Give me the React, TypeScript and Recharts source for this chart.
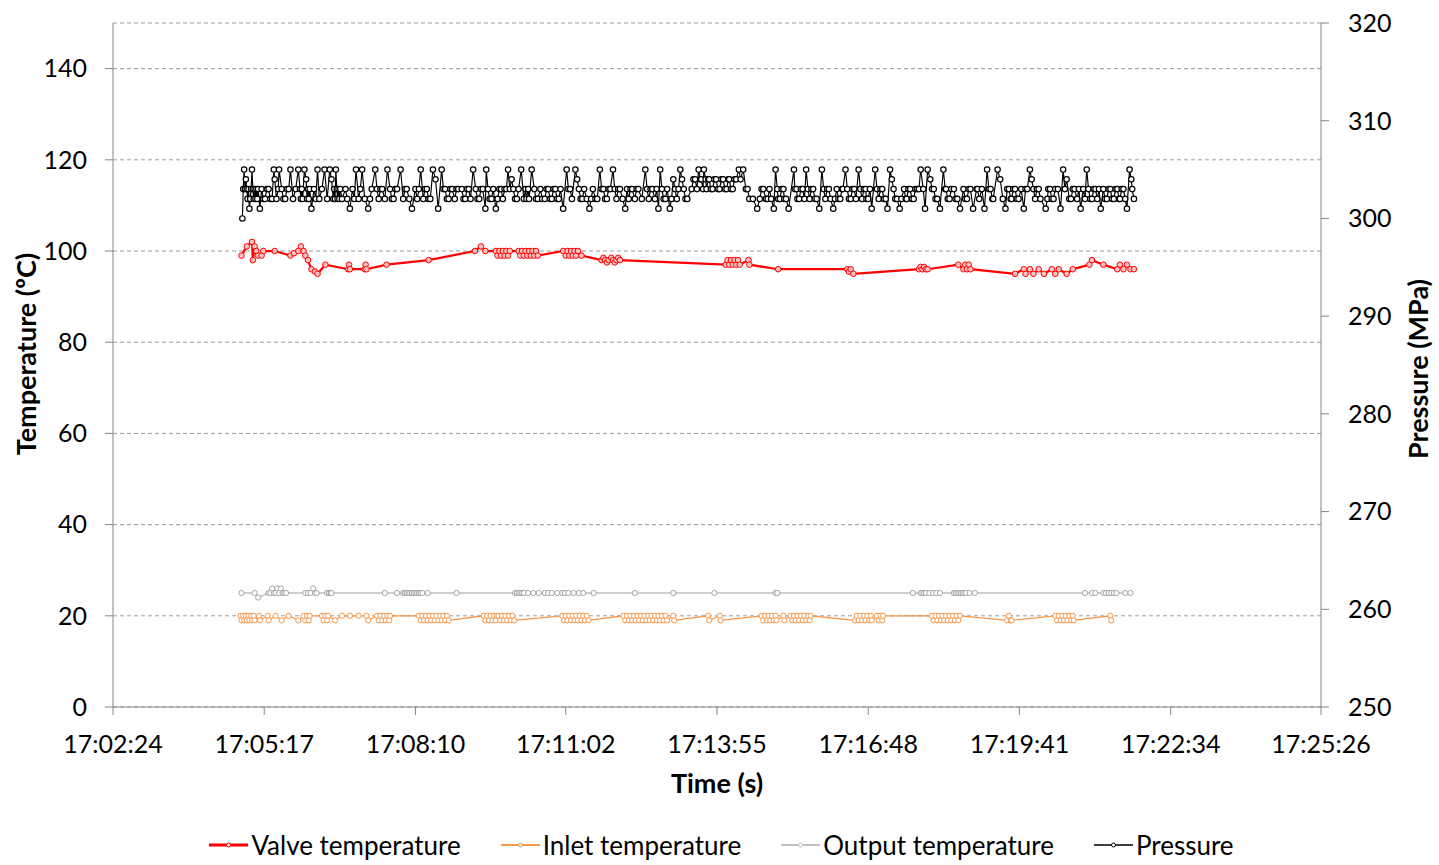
import React from 'react';
import { LineChart, Line, XAxis, YAxis, CartesianGrid, Legend, Label } from 'recharts';

// Time tick labels of the horizontal axis (clock time)
const timeTickLabels = ['17:02:24', '17:05:17', '17:08:10', '17:11:02', '17:13:55', '17:16:48', '17:19:41', '17:22:34', '17:25:26'];
const temperatureTicks = [0, 20, 40, 60, 80, 100, 120, 140];
const pressureTicks = [250, 260, 270, 280, 290, 300, 310, 320];

// All sample times are seconds after 17:00:00
const valveTime = [
  291, 297, 303, 304, 306, 308, 310, 314, 316, 329, 347, 351, 356, 359, 362, 364, 367, 371, 375, 378, 387,
  413, 414, 415, 432, 433, 434, 457, 505, 558, 565, 570,
  582, 584, 586, 588, 590, 592, 594, 596, 598,
  608, 610, 612, 614, 616, 618, 620, 622, 624, 626, 628, 630,
  659, 662, 664, 666, 668, 670, 672, 674, 676, 680,
  703, 705, 707, 709, 711, 714, 716, 718, 720, 722, 724,
  845, 847, 849, 851, 853, 855, 857, 859, 861, 871, 872, 905,
  984, 986, 988, 991, 1066, 1068, 1070, 1072, 1074, 1076,
  1111, 1117, 1119, 1121, 1123, 1125, 1176, 1186, 1188, 1193, 1197, 1203, 1209, 1218, 1222, 1226, 1235, 1242,
  1261, 1264, 1277, 1293, 1296, 1300, 1304, 1308, 1312,
];
const valveTemp = [
  99, 101, 102, 98, 101, 100, 99, 99, 100, 100, 99, 99.5, 100, 101, 100, 99, 98, 96, 95.5, 95, 97,
  96, 97, 96, 96, 97, 96, 97, 98, 100, 101, 100,
  100, 99, 100, 99, 100, 99, 100, 99, 100,
  100, 99, 100, 99, 100, 99, 100, 99, 100, 99, 100, 99,
  100, 99, 100, 99, 100, 99, 100, 99, 100, 99,
  98, 98.5, 98, 97.5, 98, 98.5, 98, 97.5, 98, 98.5, 98,
  97, 98, 97, 98, 97, 98, 97, 98, 97, 98, 97, 96,
  96, 95.5, 96, 95, 96, 96.5, 96, 96.5, 96, 96,
  97, 96, 97, 96, 97, 96, 95, 96, 95, 96, 95, 96, 95, 96, 95, 96, 95, 96,
  97, 98, 97, 96, 97, 96, 97, 96, 96,
];

const inletTime = [
  290, 291, 293, 294, 296, 297, 299, 300, 302, 303, 305, 306,
  311, 312, 321, 322, 330, 337, 345, 356,
  362, 364, 366, 368, 369,
  383, 385, 387, 389, 390,
  398, 406, 415, 425, 434, 436,
  446, 448, 450, 452, 454, 456, 458, 460, 461,
  494, 496, 498, 500, 502, 504, 506, 508, 510, 512, 514, 516, 518, 520, 522, 524, 526, 528,
  568, 570, 572, 574, 576, 578, 580, 582, 583,
  585, 587, 589, 591, 593, 595, 597, 599, 601, 603,
  658, 660, 662, 664, 666, 668, 670, 672, 674, 676, 678, 680, 682, 684, 686, 688,
  728, 730, 732, 734, 736, 738, 740, 742, 744, 746, 748, 750, 752, 754, 756, 758, 760, 762, 764, 766, 768, 770, 772, 774, 776, 778,
  785, 786, 825, 826, 838, 839,
  886, 888, 890, 892, 894, 896, 898, 900, 902, 903,
  911, 912,
  919, 921, 923, 925, 927, 929, 931, 933, 935, 937, 939, 941, 942,
  993, 995, 997, 999, 1001, 1003, 1005, 1007, 1009, 1011, 1012,
  1018, 1020, 1022, 1024, 1025,
  1081, 1083, 1085, 1087, 1089, 1091, 1093, 1095, 1097, 1099, 1101, 1103, 1105, 1107, 1109, 1111, 1113,
  1167, 1169, 1171, 1172,
  1222, 1224, 1226, 1228, 1230, 1232, 1234, 1236, 1238, 1240, 1242, 1243,
  1285, 1286,
];
const inletTemp = [
  20, 19, 20, 19, 20, 19, 20, 19, 20, 19, 20, 19,
  20, 19, 20, 19, 20, 19, 20, 19,
  20, 19, 20, 19, 20,
  20, 19, 20, 19, 20,
  19, 20, 20, 20, 20, 19,
  20, 19, 20, 19, 20, 19, 20, 19, 20,
  20, 19, 20, 19, 20, 19, 20, 19, 20, 19, 20, 19, 20, 19, 20, 19, 20, 19,
  20, 19, 20, 19, 20, 19, 20, 19, 20,
  20, 19, 20, 19, 20, 19, 20, 19, 20, 19,
  20, 19, 20, 19, 20, 19, 20, 19, 20, 19, 20, 19, 20, 19, 20, 19,
  20, 19, 20, 19, 20, 19, 20, 19, 20, 19, 20, 19, 20, 19, 20, 19, 20, 19, 20, 19, 20, 19, 20, 19, 20, 19,
  20, 19, 20, 19, 20, 19,
  20, 19, 20, 19, 20, 19, 20, 19, 20, 19,
  20, 19,
  20, 19, 20, 19, 20, 19, 20, 19, 20, 19, 20, 19, 20,
  19, 20, 19, 20, 19, 20, 19, 20, 19, 20, 19,
  20, 19, 20, 19, 20,
  20, 19, 20, 19, 20, 19, 20, 19, 20, 19, 20, 19, 20, 19, 20, 19, 20,
  19, 20, 19, 19,
  20, 19, 20, 19, 20, 19, 20, 19, 20, 19, 20, 19,
  20, 19,
];

const outputTime = [
  291, 306, 310, 322, 324, 326, 328, 330, 332, 334, 336, 338, 340, 342,
  364, 367, 370, 373, 375, 377,
  389, 391, 393, 394,
  455, 469,
  476, 478, 480, 482, 484, 486, 488, 490, 492, 494, 496, 498,
  504, 537,
  604, 606, 608, 610, 612, 614,
  619, 625, 631, 638, 642, 646, 652, 658, 661, 665, 671, 677, 682,
  694, 741, 785, 832, 902, 904, 1059,
  1068, 1070, 1072, 1074, 1078, 1082, 1086, 1090,
  1106, 1108, 1110, 1112, 1114, 1116, 1118, 1120, 1124, 1130,
  1256, 1264, 1268, 1277, 1280, 1283, 1286, 1289, 1292, 1302, 1308,
];
const outputTemp = [
  25, 25, 24, 25, 25, 26, 25, 25, 26, 25, 26, 25, 25, 25,
  25, 25, 25, 26, 25, 25,
  25, 25, 25, 25,
  25, 25,
  25, 25, 25, 25, 25, 25, 25, 25, 25, 25, 25, 25,
  25, 25,
  25, 25, 25, 25, 25, 25,
  25, 25, 25, 25, 25, 25, 25, 25, 25, 25, 25, 25, 25,
  25, 25, 25, 25, 25, 25, 25,
  25, 25, 25, 25, 25, 25, 25, 25,
  25, 25, 25, 25, 25, 25, 25, 25, 25, 25,
  25, 25, 25, 25, 25, 25, 25, 25, 25, 25, 25,
];

const pressureTime = [
  292, 293, 294, 295, 296, 297, 298, 299, 300, 301,
  302, 303, 304, 305, 306, 307, 308, 309, 310, 312,
  314, 316, 318, 320, 322, 324, 326, 328, 329, 331,
  333, 334, 337, 339, 341, 343, 345, 347, 350, 353,
  356, 358, 359, 360, 361, 363, 365, 366, 367, 368,
  369, 371, 374, 376, 378, 380, 383, 386, 389, 392,
  394, 396, 397, 398, 399, 400, 401, 402, 403, 404,
  406, 410, 412, 415, 418, 420, 422, 425, 427, 429,
  432, 436, 438, 440, 444, 446, 448, 450, 452, 455,
  458, 461, 463, 465, 467, 469, 473, 476, 478, 480,
  483, 486, 490, 492, 494, 496, 499, 501, 503, 505,
  507, 510, 513, 516, 520, 522, 524, 526, 528, 530,
  532, 535, 537, 539,
  543, 545, 547, 549, 551, 553, 556, 559, 561, 563,
  565, 567, 570, 571, 573, 575, 577, 579, 582, 584,
  586, 588, 590, 592, 594, 596, 598, 600, 602, 604,
  606, 608, 611, 614, 616, 617, 619, 620, 623, 626,
  628, 630, 633, 635, 638, 640, 642, 644, 646, 648,
  650, 652, 654, 656, 659, 663, 665, 667, 669, 673,
  675, 677, 679, 681, 683, 686, 689, 691, 693, 696,
  698, 701, 703, 705, 707, 709, 711, 713, 716, 718,
  720, 722, 724, 727, 730, 732, 734, 736, 738, 741,
  743, 745, 749, 753, 755, 757, 759, 761, 764, 766,
  768, 770, 772, 774, 776, 778, 781, 783, 785, 787,
  789, 791, 793, 795, 797, 799, 801,
  806, 808, 810, 812, 814, 816, 817, 819, 820, 822,
  823, 825, 826, 828, 830, 832, 834, 836, 838, 840,
  842, 844, 846, 848, 849, 851, 853, 855, 857, 860,
  862, 865, 868, 870, 872, 876, 881, 884, 886, 888,
  891, 893, 895, 897, 900, 902, 904, 905, 907, 909,
  911, 912, 914, 917, 923, 924, 926, 927, 929, 931,
  933, 935, 937, 939, 941, 943, 945, 947, 949, 952,
  955, 957, 959, 961, 963, 965, 968, 970, 972, 974,
  976, 978, 979, 982, 984, 986, 988, 990, 992, 994,
  997, 999, 1001, 1003, 1005, 1006, 1008, 1010, 1012, 1016,
  1018, 1020, 1022, 1024, 1026, 1028, 1030, 1033, 1035, 1037,
  1039, 1041, 1044, 1046, 1049, 1051, 1052, 1054, 1056, 1058,
  1060, 1062, 1064,
  1066, 1068, 1071, 1073, 1076, 1079, 1081, 1083, 1085, 1087,
  1090, 1094, 1096, 1097, 1099, 1101, 1103, 1106, 1108, 1110,
  1113, 1117, 1119, 1121, 1123, 1125, 1128, 1132, 1133, 1135,
  1138, 1141, 1144, 1146, 1148, 1150, 1151, 1156, 1159, 1162,
  1165, 1167, 1169, 1171, 1172, 1174, 1176, 1178, 1180, 1183,
  1186, 1188, 1190, 1193, 1195, 1197, 1199, 1201, 1203, 1205,
  1211, 1213, 1214, 1216, 1218, 1220, 1222, 1225, 1228, 1231,
  1233, 1235, 1238, 1240, 1242, 1244, 1247, 1249, 1251, 1254,
  1256, 1258, 1260, 1262, 1264, 1266, 1268, 1270, 1272, 1274,
  1277, 1279, 1281, 1283, 1285, 1287, 1289, 1291, 1293, 1295,
  1296, 1298, 1300, 1302, 1304, 1307, 1309, 1310, 1312,
];
const pressureValue = [
  300, 303, 305, 303, 304, 303, 302, 303, 301, 302,
  303, 305, 303, 302, 303, 302, 303, 302, 303, 301,
  303, 302, 302, 303, 303, 302, 302, 305, 304, 302,
  303, 305, 303, 302, 302, 303, 303, 305, 302, 303,
  305, 303, 302, 303, 302, 305, 304, 302, 303, 302,
  303, 301, 303, 302, 305, 302, 303, 305, 302, 305,
  304, 302, 303, 302, 305, 303, 302, 303, 302, 303,
  302, 303, 302, 301, 303, 302, 305, 302, 303, 305,
  302, 301, 302, 303, 305, 303, 302, 303, 303, 302,
  305, 303, 302, 302, 303, 303, 305, 302, 303, 303,
  302, 301, 303, 302, 303, 305, 302, 303, 303, 302,
  302, 305, 304, 301, 305, 303, 303, 302, 302, 303,
  303, 302, 303, 303,
  303, 302, 302, 303, 303, 302, 305, 303, 302, 302,
  303, 303, 301, 305, 303, 302, 302, 303, 301, 302,
  303, 303, 302, 303, 303, 305, 303, 304, 303, 302,
  302, 303, 305, 302, 303, 302, 303, 302, 305, 303,
  302, 302, 303, 302, 302, 303, 303, 302, 302, 303,
  303, 302, 302, 303, 301, 305, 303, 303, 302, 305,
  304, 303, 302, 302, 303, 302, 301, 302, 303, 302,
  302, 305, 303, 303, 302, 302, 303, 303, 305, 303,
  302, 303, 303, 302, 301, 303, 302, 303, 303, 302,
  303, 303, 302, 305, 303, 302, 303, 303, 302, 303,
  301, 305, 303, 302, 302, 303, 301, 302, 304, 303,
  302, 303, 305, 304, 303, 302, 302,
  303, 304, 304, 303, 305, 304, 304, 303, 305, 304,
  303, 304, 304, 303, 303, 304, 304, 303, 303, 304,
  304, 303, 303, 304, 304, 303, 303, 304, 304, 305,
  304, 305, 303, 303, 302, 302, 301, 302, 303, 303,
  302, 302, 303, 302, 301, 305, 303, 302, 302, 303,
  303, 302, 302, 301, 305, 303, 303, 302, 302, 303,
  303, 302, 305, 303, 302, 303, 303, 302, 302, 301,
  305, 303, 302, 303, 303, 302, 301, 302, 303, 302,
  302, 303, 303, 305, 303, 302, 302, 303, 303, 302,
  305, 303, 302, 303, 303, 302, 302, 303, 301, 305,
  303, 302, 303, 303, 302, 302, 301, 305, 304, 303,
  302, 302, 301, 302, 303, 302, 302, 303, 303, 302,
  302, 303, 303,
  303, 305, 303, 301, 305, 304, 303, 303, 302, 302,
  301, 305, 303, 303, 302, 302, 303, 303, 302, 302,
  301, 303, 302, 302, 303, 303, 301, 303, 303, 302,
  303, 301, 305, 303, 303, 302, 302, 305, 304, 302,
  301, 303, 303, 302, 302, 303, 303, 302, 302, 303,
  301, 303, 303, 305, 304, 303, 302, 303, 303, 302,
  301, 302, 303, 303, 302, 302, 303, 303, 301, 305,
  303, 304, 302, 302, 303, 303, 302, 303, 301, 303,
  302, 305, 303, 302, 302, 303, 303, 302, 303, 301,
  303, 302, 302, 303, 303, 302, 302, 303, 303, 302,
  302, 303, 303, 302, 301, 305, 304, 303, 302,
];

const FONT = 'Lato, "Open Sans", sans-serif';
const AXIS_GRAY = '#868686';

const parseClock = (s: string) => {
  const [h, m, sec] = s.split(':').map(Number);
  return h * 3600 + m * 60 + sec - 17 * 3600;
};
const pad = (n: number) => (n < 10 ? '0' + n : String(n));
const formatClock = (v: number) => {
  const total = Math.round(v) + 17 * 3600;
  const h = Math.floor(total / 3600);
  const m = Math.floor((total % 3600) / 60);
  const s = total % 60;
  return `${h}:${pad(m)}:${pad(s)}`;
};
const timeTicks = timeTickLabels.map(parseClock);

const zip = (ts: number[], vs: number[]) => ts.map((t, i) => ({ t, v: vs[i] }));
const valveData = zip(valveTime, valveTemp);
const inletData = zip(inletTime, inletTemp);
const outputData = zip(outputTime, outputTemp);
const pressureData = zip(pressureTime, pressureValue);

const legendItems = [
  { name: 'Valve temperature', color: '#FF0000', width: 3 },
  { name: 'Inlet temperature', color: '#F79646', width: 2 },
  { name: 'Output temperature', color: '#BFBFBF', width: 2 },
  { name: 'Pressure', color: '#000000', width: 1.5 },
];

const renderLegend = () => (
  <div
    style={{
      display: 'flex',
      justifyContent: 'center',
      alignItems: 'center',
      gap: 40,
      height: 40,
      fontFamily: FONT,
      fontSize: 26,
      color: '#000',
      paddingLeft: 4,
    }}
  >
    {legendItems.map((it) => (
      <div key={it.name} style={{ display: 'flex', alignItems: 'center' }}>
        <svg width={39} height={12}>
          <line x1={0} x2={39} y1={6} y2={6} stroke={it.color} strokeWidth={it.width} />
          <circle cx={19.5} cy={6} r={2} fill="#fff" stroke={it.color} strokeWidth={1} />
        </svg>
        <span style={{ marginLeft: 3 }}>{it.name}</span>
      </div>
    ))}
  </div>
);

const tickStyle = { fill: '#000', fontSize: 25, fontFamily: FONT };
const titleStyle: React.CSSProperties = { fontFamily: FONT, fontSize: 27, fontWeight: 700, fill: '#000' };

export default function App() {
  return (
    <div style={{ position: 'absolute', left: 0, top: 0, width: 1439, height: 865, background: '#fff' }}>
      <LineChart width={1439} height={865} margin={{ top: 23, right: 0, bottom: 0, left: 0 }}>
        <CartesianGrid yAxisId="left" vertical={false} stroke="#9A9A9A" strokeDasharray="4 3" />
        <XAxis
          dataKey="t"
          type="number"
          domain={[timeTicks[0], timeTicks[timeTicks.length - 1]]}
          ticks={timeTicks}
          tickFormatter={formatClock}
          interval={0}
          allowDataOverflow
          height={118}
          tickSize={8}
          tickMargin={20}
          tick={tickStyle}
          axisLine={{ stroke: AXIS_GRAY }}
          tickLine={{ stroke: AXIS_GRAY }}
        >
          <Label
            content={() => (
              <text x={717} y={782} textAnchor="middle" dominantBaseline="central" style={titleStyle}>
                Time (s)
              </text>
            )}
          />
        </XAxis>
        <YAxis
          yAxisId="left"
          width={113}
          domain={[0, 150]}
          ticks={temperatureTicks}
          interval={0}
          tickSize={8}
          tickMargin={18}
          tick={tickStyle}
          axisLine={{ stroke: AXIS_GRAY }}
          tickLine={{ stroke: AXIS_GRAY }}
        >
          <Label
            content={() => (
              <text
                x={25}
                y={354}
                transform="rotate(-90 25 354)"
                textAnchor="middle"
                dominantBaseline="central"
                style={titleStyle}
              >
                Temperature (ºC)
              </text>
            )}
          />
        </YAxis>
        <YAxis
          yAxisId="right"
          orientation="right"
          width={118}
          domain={[250, 320]}
          ticks={pressureTicks}
          interval={0}
          tickSize={8}
          tickMargin={19}
          tick={tickStyle}
          axisLine={{ stroke: AXIS_GRAY }}
          tickLine={{ stroke: AXIS_GRAY }}
        >
          <Label
            content={() => (
              <text
                x={1417}
                y={369}
                transform="rotate(-90 1417 369)"
                textAnchor="middle"
                dominantBaseline="central"
                style={titleStyle}
              >
                Pressure (MPa)
              </text>
            )}
          />
        </YAxis>
        <Legend verticalAlign="bottom" content={renderLegend} />
        <Line
          yAxisId="left"
          data={outputData}
          dataKey="v"
          name="Output temperature"
          stroke="#BFBFBF"
          strokeWidth={1.5}
          dot={{ r: 2.6, stroke: '#A6A6A6', strokeWidth: 1, fill: '#fff' }}
          activeDot={false}
          isAnimationActive={false}
        />
        <Line
          yAxisId="left"
          data={inletData}
          dataKey="v"
          name="Inlet temperature"
          stroke="#F79646"
          strokeWidth={1.25}
          dot={{ r: 2.6, stroke: '#F79646', strokeWidth: 1, fill: '#fff' }}
          activeDot={false}
          isAnimationActive={false}
        />
        <Line
          yAxisId="left"
          data={valveData}
          dataKey="v"
          name="Valve temperature"
          stroke="#FF0000"
          strokeWidth={2.25}
          dot={{ r: 2.8, stroke: '#FF0000', strokeWidth: 1, fill: '#FFC0C0' }}
          activeDot={false}
          isAnimationActive={false}
        />
        <Line
          yAxisId="right"
          data={pressureData}
          dataKey="v"
          name="Pressure"
          stroke="#000000"
          strokeWidth={1.15}
          dot={{ r: 2.7, stroke: '#000', strokeWidth: 1.2, fill: '#fff' }}
          activeDot={false}
          isAnimationActive={false}
        />
      </LineChart>
    </div>
  );
}
